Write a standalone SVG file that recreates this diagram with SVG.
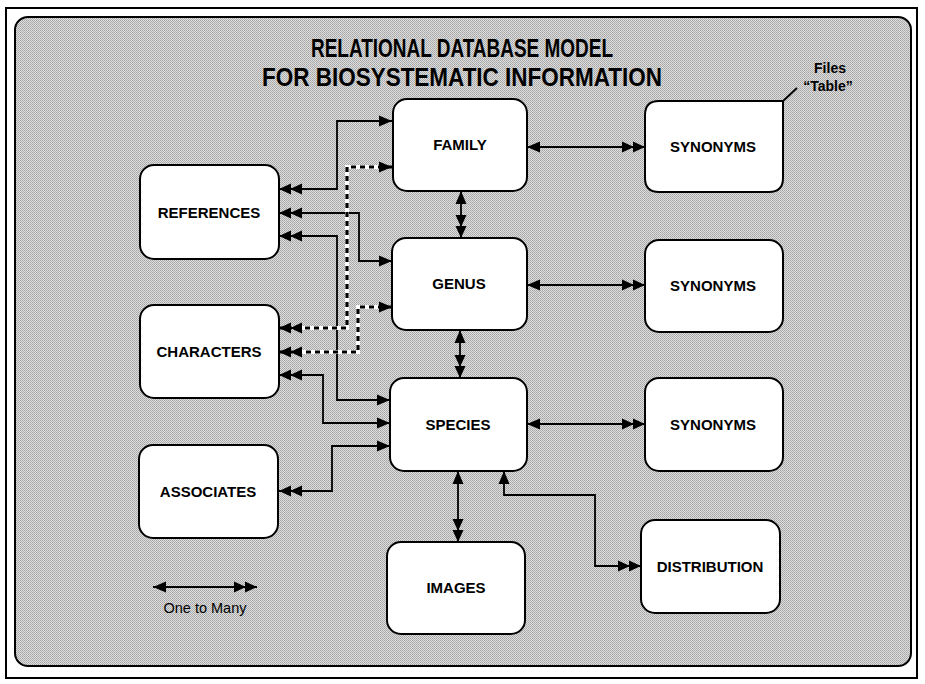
<svg xmlns="http://www.w3.org/2000/svg" width="925" height="684" viewBox="0 0 925 684">
<style>
.box{fill:#fff;stroke:#000;stroke-width:2}
.lbl{font-family:"Liberation Sans",Arial,sans-serif;font-weight:bold;font-size:15px;fill:#000;text-anchor:middle}
.title{font-family:"Liberation Sans",Arial,sans-serif;font-weight:bold;font-size:25px;fill:#000;text-anchor:middle}
.note{font-family:"Liberation Sans",Arial,sans-serif;font-weight:bold;font-size:14px;fill:#000;text-anchor:middle}
.leg{font-family:"Liberation Sans",Arial,sans-serif;font-size:14.5px;fill:#000;text-anchor:middle}
.c{fill:none;stroke:#000;stroke-width:1.8;marker-start:url(#a1);marker-end:url(#a2)}
.du{fill:none;stroke:#fff;stroke-width:4}
.d{fill:none;stroke:#000;stroke-width:3.2;stroke-dasharray:5 4;marker-start:url(#a1);marker-end:url(#a2)}
</style>
<defs>
<pattern id="stip" width="2" height="2" patternUnits="userSpaceOnUse">
<rect width="2" height="2" fill="#dedede"/>
<rect width="1" height="1" fill="#a4a4a4"/>
<rect x="1" y="1" width="1" height="1" fill="#b0b0b0"/>
</pattern>
<marker id="a1" markerUnits="userSpaceOnUse" viewBox="0 -6 14 12" markerWidth="14" markerHeight="12" refX="13" refY="0" orient="auto-start-reverse">
<path d="M0,-5.5 L13,0 L0,5.5 z" fill="#000"/>
</marker>
<marker id="a2" markerUnits="userSpaceOnUse" viewBox="0 -6 24 12" markerWidth="24" markerHeight="12" refX="23" refY="0" orient="auto-start-reverse">
<path d="M0,-5.5 L12,0 L0,5.5 z M11,-5.5 L23,0 L11,5.5 z" fill="#000"/>
</marker>
</defs>
<rect width="925" height="684" fill="#fff"/>
<rect x="6" y="8" width="911" height="670" fill="none" stroke="#000" stroke-width="2"/>
<rect x="15" y="17" width="896" height="649" rx="13" fill="url(#stip)" stroke="#000" stroke-width="2"/>

<g id="title">
<text class="title" x="462" y="57" textLength="302" lengthAdjust="spacingAndGlyphs">RELATIONAL DATABASE MODEL</text>
<text class="title" x="462" y="86" textLength="400" lengthAdjust="spacingAndGlyphs">FOR BIOSYSTEMATIC INFORMATION</text>
</g>

<g id="connectors">
<path class="c" d="M392,121 H337 V189 H279"/>
<path class="c" d="M392,261 H359 V213 H279"/>
<path class="c" d="M390,400 H337 V236 H279"/>
<path class="c" d="M390,423 H323 V375 H279"/>
<path class="c" d="M390,446 H332 V491 H279"/>
<path class="du" d="M382,167 H347 V328 H292"/>
<path class="d" d="M392,167 H347 V328 H279"/>
<path class="du" d="M382,307 H358 V352 H292"/>
<path class="d" d="M392,307 H358 V352 H279"/>
<path class="c" d="M461,191 V238"/>
<path class="c" d="M460,330 V378"/>
<path class="c" d="M458,471 V542"/>
<path class="c" d="M504,471 V495 H595 V566 H641"/>
<path class="c" d="M527,147 H645"/>
<path class="c" d="M527,285 H645"/>
<path class="c" d="M527,424 H645"/>
<path fill="none" stroke="#000" stroke-width="1.8" d="M782,102 L797,88"/>
</g>

<g id="family"><rect class="box" x="393" y="99" width="134" height="92" rx="14"/><text class="lbl" x="460" y="150">FAMILY</text></g>
<g id="genus"><rect class="box" x="392" y="238" width="135" height="92" rx="14"/><text class="lbl" x="459" y="289">GENUS</text></g>
<g id="species"><rect class="box" x="390" y="378" width="137" height="93" rx="14"/><text class="lbl" x="458" y="430">SPECIES</text></g>
<g id="images"><rect class="box" x="387" y="542" width="138" height="92" rx="14"/><text class="lbl" x="456" y="593">IMAGES</text></g>
<g id="synonyms1"><path class="box" d="M659,101 H783 V178 Q783,192 769,192 H659 Q645,192 645,178 V115 Q645,101 659,101 Z"/><text class="lbl" x="713" y="152">SYNONYMS</text></g>
<g id="synonyms2"><rect class="box" x="645" y="240" width="138" height="92" rx="14"/><text class="lbl" x="713" y="291">SYNONYMS</text></g>
<g id="synonyms3"><rect class="box" x="645" y="378" width="138" height="93" rx="14"/><text class="lbl" x="713" y="430">SYNONYMS</text></g>
<g id="distribution"><rect class="box" x="641" y="520" width="139" height="93" rx="14"/><text class="lbl" x="710" y="572">DISTRIBUTION</text></g>
<g id="references"><rect class="box" x="140" y="165" width="139" height="94" rx="14"/><text class="lbl" x="209" y="218">REFERENCES</text></g>
<g id="characters"><rect class="box" x="140" y="305" width="139" height="93" rx="14"/><text class="lbl" x="209" y="357">CHARACTERS</text></g>
<g id="associates"><rect class="box" x="139" y="445" width="139" height="93" rx="14"/><text class="lbl" x="208" y="497">ASSOCIATES</text></g>

<g id="files-note">
<text class="note" x="830" y="73">Files</text>
<text class="note" x="828" y="91">“Table”</text>
</g>

<g id="legend">
<path class="c" d="M153,587 H257"/>
<text class="leg" x="205" y="613">One to Many</text>
</g>
</svg>
